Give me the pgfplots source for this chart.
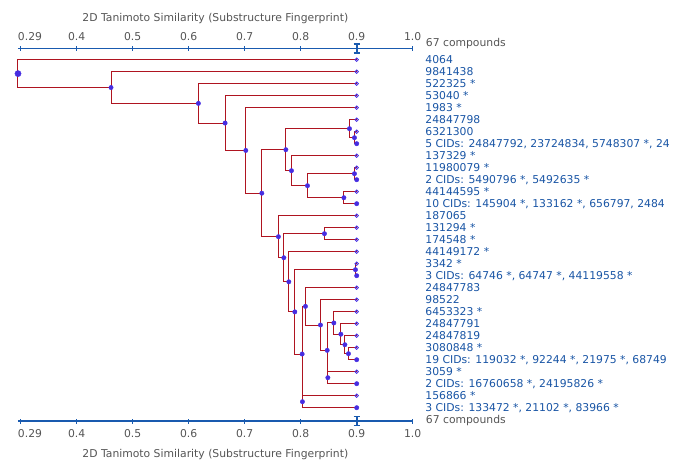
\documentclass[border=0pt]{standalone}
\usepackage{pgfplots}
\pgfplotsset{compat=1.18}
\usepackage{fontspec}
\setmainfont{DejaVu Sans}
\definecolor{linkred}{RGB}{175,20,32}
\definecolor{nodeblue}{RGB}{70,45,225}
\definecolor{axblue}{RGB}{25,90,175}
\definecolor{labblue}{RGB}{25,85,165}
\definecolor{txtgray}{RGB}{85,85,85}
\begin{document}
\begin{tikzpicture}[font=\fontsize{10.8}{13}\selectfont]
\pgfplotsset{dendro/.style={
  scale only axis, width=394.7pt, height=372.3pt,
  xmin=0.2952, xmax=1.0, ymin=0.0833, ymax=31.108, y dir=reverse,
  clip=false,
  xtick={0.3,0.4,0.5,0.6,0.7,0.8,0.9,1.0},
  xticklabels={\hspace*{18.6pt}0.29,0.4,0.5,0.6,0.7,0.8,0.9,1.0},
  tick align=center, major tick length=5pt,
  x axis line style={axblue, line width=1.3pt},
  xtick style={axblue, line width=1pt},
  xticklabel style={text=txtgray, font=\fontsize{10.8}{13}\selectfont},
  /pgf/number format/assume math mode=true,
  xlabel={2D Tanimoto Similarity (Substructure Fingerprint)},
  xlabel style={text=txtgray, font=\fontsize{10.8}{13}\selectfont},
}}
% top axis with the tree
\begin{axis}[dendro, axis x line*=top, hide y axis,
  xticklabel style={yshift=2pt}, xlabel style={yshift=2pt}]
\addplot[linkred, line width=1pt, mark=none, unbounded coords=jump] coordinates {
(0.9,1) (0.2952,1) (0.2952,3.32) (0.4613,3.32) (nan,nan)
(0.9,2) (0.4613,2) (0.4613,4.64) (0.6173,4.64) (nan,nan)
(0.9,3) (0.6173,3) (0.6173,6.28) (0.6650,6.28) (nan,nan)
(0.9,4) (0.6650,4) (0.6650,8.5625) (0.7020,8.5625) (nan,nan)
(0.9,5) (0.7020,5) (0.7020,12.125) (0.7306,12.125) (nan,nan)
(0.7735,8.5) (0.7306,8.5) (0.7306,15.75) (0.7602,15.75) (nan,nan)
(0.8871,6.75) (0.7735,6.75) (0.7735,10.25) (0.7835,10.25) (nan,nan)
(0.9,6) (0.8871,6) (0.8871,7.5) (0.8960,7.5) (nan,nan)
(0.9,7) (0.8960,7) (0.8960,8) (0.9,8) (nan,nan)
(0.9,9) (0.7835,9) (0.7835,11.5) (0.8121,11.5) (nan,nan)
(0.8960,10.5) (0.8121,10.5) (0.8121,12.5) (0.8771,12.5) (nan,nan)
(0.9,10) (0.8960,10) (0.8960,11) (0.9,11) (nan,nan)
(0.9,12) (0.8771,12) (0.8771,13) (0.9,13) (nan,nan)
(0.9,14) (0.7602,14) (0.7602,17.5035) (0.7699,17.5035) (nan,nan)
(0.8424,15.5) (0.7699,15.5) (0.7699,19.507) (0.7788,19.507) (nan,nan)
(0.9,15) (0.8424,15) (0.8424,16) (0.9,16) (nan,nan)
(0.9,17) (0.7788,17) (0.7788,22.014) (0.7895,22.014) (nan,nan)
(0.8978,18.5) (0.7895,18.5) (0.7895,25.527) (0.8026,25.527) (nan,nan)
(0.9,18) (0.8978,18) (0.8978,19) (0.9,19) (nan,nan)
(0.8085,21.555) (0.8026,21.555) (0.8026,29.5) (0.8031,29.5) (nan,nan)
(0.9,20) (0.8085,20) (0.8085,23.109) (0.8353,23.109) (nan,nan)
(0.9,21) (0.8353,21) (0.8353,25.219) (0.8473,25.219) (nan,nan)
(0.8592,22.9375) (0.8473,22.9375) (0.8473,27.5) (0.8485,27.5) (nan,nan)
(0.9,22) (0.8592,22) (0.8592,23.875) (0.8717,23.875) (nan,nan)
(0.9,23) (0.8717,23) (0.8717,24.75) (0.8789,24.75) (nan,nan)
(0.9,24) (0.8789,24) (0.8789,25.5) (0.8853,25.5) (nan,nan)
(0.9,25) (0.8853,25) (0.8853,26) (0.9,26) (nan,nan)
(0.9,27) (0.8485,27) (0.8485,28) (0.9,28) (nan,nan)
(0.9,29) (0.8031,29) (0.8031,30) (0.9,30)
};
% internal nodes
\addplot[only marks, mark=*, mark size=2.2pt, nodeblue] coordinates {
(0.4613,3.32) (0.6173,4.64) (0.6650,6.28) (0.7020,8.5625) (0.7306,12.125)
(0.7735,8.5) (0.8871,6.75) (0.8960,7.5) (0.7835,10.25) (0.8121,11.5)
(0.8960,10.5) (0.8771,12.5) (0.7602,15.75) (0.7699,17.5035) (0.8424,15.5)
(0.7788,19.507) (0.7895,22.014) (0.8978,18.5) (0.8026,25.527) (0.8085,21.555)
(0.8353,23.109) (0.8473,25.219) (0.8592,22.9375) (0.8717,23.875) (0.8789,24.75)
(0.8853,25.5) (0.8485,27.5) (0.8031,29.5)
};
% root
\addplot[only marks, mark=*, mark size=3.1pt, nodeblue] coordinates {(0.2952,2.16)};
% single-compound leaves
\addplot[only marks, mark=o, mark size=1.7pt, nodeblue, line width=0.8pt] coordinates {
(0.9,1) (0.9,2) (0.9,3) (0.9,4) (0.9,5) (0.9,6) (0.9,7) (0.9,9) (0.9,10) (0.9,12)
(0.9,14) (0.9,15) (0.9,16) (0.9,17) (0.9,18) (0.9,20) (0.9,21) (0.9,22) (0.9,23)
(0.9,24) (0.9,25) (0.9,27) (0.9,29)
};
% multi-compound leaves
\addplot[only marks, mark=*, mark size=2.2pt, nodeblue] coordinates {
(0.9,8) (0.9,11) (0.9,13) (0.9,19) (0.9,26) (0.9,28) (0.9,30)
};
\end{axis}
% bottom axis with leaf labels
\begin{axis}[dendro, axis x line*=bottom, axis y line*=right,
  xticklabel style={yshift=-2pt}, xlabel style={yshift=-5pt},
  y axis line style={draw=none}, ytick style={draw=none},
  ytick={1,...,30},
  yticklabels={4064,9841438,522325 *,53040 *,1983 *,24847798,6321300,
    {5 CIDs: 24847792, 23724834, 5748307 *, 24},137329 *,11980079 *,
    {2 CIDs: 5490796 *, 5492635 *},44144595 *,
    {10 CIDs: 145904 *, 133162 *, 656797, 2484},187065,131294 *,174548 *,
    44149172 *,3342 *,{3 CIDs: 64746 *, 64747 *, 44119558 *},24847783,98522,
    6453323 *,24847791,24847819,3080848 *,
    {19 CIDs: 119032 *, 92244 *, 21975 *, 68749},3059 *,
    {2 CIDs: 16760658 *, 24195826 *},156866 *,{3 CIDs: 133472 *, 21102 *, 83966 *}},
  yticklabel style={text=labblue, anchor=west, inner xsep=0pt, xshift=10pt,
    font=\fontsize{10.8}{13}\selectfont}]
\addplot[draw=none, forget plot] coordinates {(0.9,1) (0.9,30)};
\draw[axblue,line width=2pt] ([yshift=-4.5pt]axis cs:0.9,0.0833) -- ([yshift=4.5pt]axis cs:0.9,0.0833);
\draw[axblue,line width=1.4pt] ([xshift=-3pt,yshift=4.5pt]axis cs:0.9,0.0833) -- ([xshift=3pt,yshift=4.5pt]axis cs:0.9,0.0833);
\draw[axblue,line width=1.4pt] ([xshift=-3pt,yshift=-4.5pt]axis cs:0.9,0.0833) -- ([xshift=3pt,yshift=-4.5pt]axis cs:0.9,0.0833);
\draw[axblue,line width=2pt] ([yshift=-4.5pt]axis cs:0.9,31.108) -- ([yshift=4.5pt]axis cs:0.9,31.108);
\draw[axblue,line width=1.4pt] ([xshift=-3pt,yshift=4.5pt]axis cs:0.9,31.108) -- ([xshift=3pt,yshift=4.5pt]axis cs:0.9,31.108);
\draw[axblue,line width=1.4pt] ([xshift=-3pt,yshift=-4.5pt]axis cs:0.9,31.108) -- ([xshift=3pt,yshift=-4.5pt]axis cs:0.9,31.108);
\node[anchor=west, text=txtgray, inner xsep=0pt, xshift=13pt, yshift=4.7pt] at (axis cs:1.0,0.0833) {67 compounds};
\node[anchor=west, text=txtgray, inner xsep=0pt, xshift=13pt] at (axis cs:1.0,31.108) {67 compounds};
\end{axis}
\pgfresetboundingbox
\useasboundingbox (-18pt,-49pt) rectangle (666pt,421pt);
\end{tikzpicture}
\end{document}
